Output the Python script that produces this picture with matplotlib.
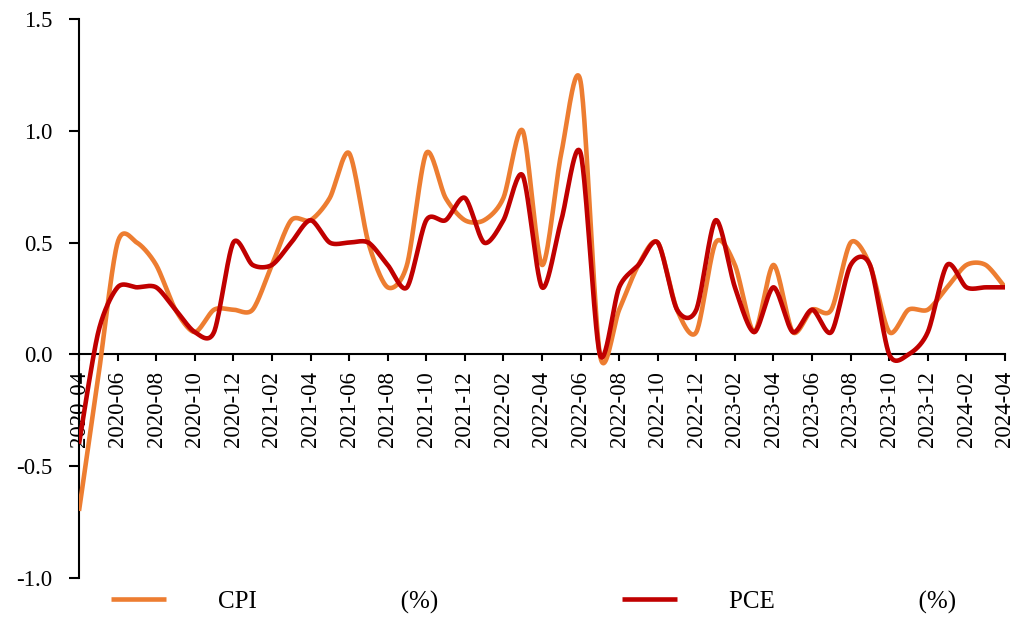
import matplotlib
matplotlib.use("Agg")
import matplotlib.pyplot as plt
import numpy as np

months = ["2020-04","2020-05","2020-06","2020-07","2020-08","2020-09","2020-10","2020-11","2020-12",
          "2021-01","2021-02","2021-03","2021-04","2021-05","2021-06","2021-07","2021-08","2021-09","2021-10","2021-11","2021-12",
          "2022-01","2022-02","2022-03","2022-04","2022-05","2022-06","2022-07","2022-08","2022-09","2022-10","2022-11","2022-12",
          "2023-01","2023-02","2023-03","2023-04","2023-05","2023-06","2023-07","2023-08","2023-09","2023-10","2023-11","2023-12",
          "2024-01","2024-02","2024-03","2024-04"]

cpi = [-0.7, -0.1, 0.5, 0.5, 0.4, 0.2, 0.1, 0.2, 0.2,
       0.2, 0.4, 0.6, 0.6, 0.7, 0.9, 0.5, 0.3, 0.4, 0.9, 0.7, 0.6,
       0.6, 0.7, 1.0, 0.4, 0.9, 1.22, 0.0, 0.2, 0.4, 0.5, 0.2, 0.1,
       0.5, 0.4, 0.1, 0.4, 0.1, 0.2, 0.2, 0.5, 0.4, 0.1, 0.2, 0.2,
       0.3, 0.4, 0.4, 0.3]

pce = [-0.4, 0.1, 0.3, 0.3, 0.3, 0.2, 0.1, 0.1, 0.5,
       0.4, 0.4, 0.5, 0.6, 0.5, 0.5, 0.5, 0.4, 0.3, 0.6, 0.6, 0.7,
       0.5, 0.6, 0.8, 0.3, 0.6, 0.9, 0.0, 0.3, 0.4, 0.5, 0.2, 0.2,
       0.6, 0.3, 0.1, 0.3, 0.1, 0.2, 0.1, 0.4, 0.4, 0.0, 0.0, 0.1,
       0.4, 0.3, 0.3, 0.3]

sp = " " * 23
legend_labels = ["CPI" + sp + "(%)", "PCE" + sp + "(%)"]
colors = ["#ED7D31", "#C00000"]

plt.rcParams['font.family'] = ['Liberation Serif', 'DejaVu Serif']
plt.rcParams['axes.unicode_minus'] = False


def smooth(x, y, n=30, k=0.14):
    """Excel-like smoothed line: cardinal cubic Bezier through the points."""
    x = np.asarray(x, float)
    y = np.asarray(y, float)
    px = np.concatenate([[x[0]], x, [x[-1]]])
    py = np.concatenate([[y[0]], y, [y[-1]]])
    t = np.linspace(0, 1, n)[:, None]
    xs, ys = [], []
    for i in range(1, len(px) - 2):
        p0 = np.array([px[i], py[i]])
        p3 = np.array([px[i + 1], py[i + 1]])
        c1 = p0 + (np.array([px[i + 1], py[i + 1]]) - np.array([px[i - 1], py[i - 1]])) * k
        c2 = p3 - (np.array([px[i + 2], py[i + 2]]) - np.array([px[i], py[i]])) * k
        b = ((1 - t) ** 3) * p0 + 3 * ((1 - t) ** 2) * t * c1 + 3 * (1 - t) * t ** 2 * c2 + t ** 3 * p3
        xs.append(b[:, 0])
        ys.append(b[:, 1])
    return np.concatenate(xs), np.concatenate(ys)


fig = plt.figure(figsize=(10.15, 6.17), dpi=100)
ax = fig.add_axes([79 / 1015, 1 - 578 / 617, (1005 - 79) / 1015, (578 - 19) / 617])

for s in ['top', 'right']:
    ax.spines[s].set_visible(False)
ax.spines['bottom'].set_position(('data', 0))
ax.spines['left'].set_linewidth(1.5)
ax.spines['bottom'].set_linewidth(1.5)

xi = np.arange(len(months))
handles = []
for vals, col, lab in zip([cpi, pce], colors, legend_labels):
    sx, sy = smooth(xi, vals)
    h, = ax.plot(sx, sy, color=col, lw=3.3, solid_capstyle='butt', label=lab, zorder=3)
    handles.append(h)

ax.set_xlim(0, len(months) - 1)
ax.set_ylim(-1.0, 1.5)
ax.set_yticks([-1.0, -0.5, 0.0, 0.5, 1.0, 1.5])
ax.set_yticklabels(["-1.0", "-0.5", "0.0", "0.5", "1.0", "1.5"])
ax.set_xticks(xi[::2])
ax.set_xticklabels(months[::2])
ax.tick_params(axis='y', direction='out', length=7, width=1.5, pad=12, labelsize=16.5)
ax.tick_params(axis='x', direction='out', length=5, width=1.5, pad=7, labelsize=16.5,
               labelrotation=90)

fig.legend(handles=handles, labels=legend_labels, loc='center left',
           bbox_to_anchor=(111 / 1015, 1 - 602 / 617), ncol=2, frameon=False,
           fontsize=18, handlelength=2.2, handletextpad=2.08, columnspacing=7.34,
           borderpad=0, borderaxespad=0)

fig.savefig("out.png", dpi=100)
